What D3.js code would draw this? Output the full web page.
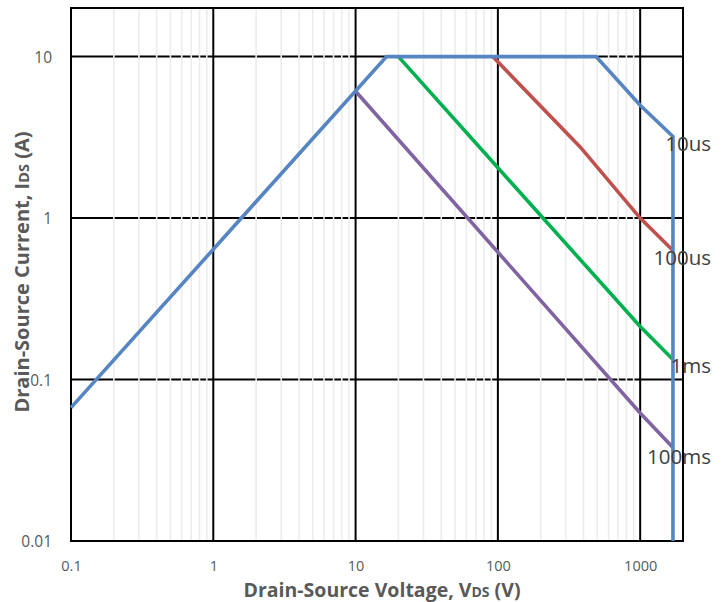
<!DOCTYPE html>
<html><head><meta charset="utf-8">
<script src="https://cdn.jsdelivr.net/npm/d3@7"></script>
<style>body{margin:0;background:#fff}svg{display:block}</style>
</head><body>
<svg id="c" width="727" height="602"></svg>
<script>
const xTicks = [0.1, 1, 10, 100, 1000];
const xTickLabels = ["0.1", "1", "10", "100", "1000"];
const yTicks = [0.01, 0.1, 1, 10];
const yTickLabels = ["0.01", "0.1", "1", "10"];

const s10usV = [0.1, 16.5, 490, 1000, 1700, 1700];
const s10usI = [0.067, 10, 10, 5.0, 3.2, 0.01];
const s100usV = [92, 380, 1000, 1700];
const s100usI = [10, 2.75, 1.0, 0.63];
const s1msV = [20, 1000, 1700];
const s1msI = [10, 0.213, 0.133];
const s100msV = [10, 1000, 1700];
const s100msI = [6.1, 0.062, 0.038];

const seriesNames = ["10us", "100us", "1ms", "100ms"];
const seriesColors = ["#5585c2", "#c0504d", "#00b050", "#8064a2"];
const labelY = [2.88, 0.565, 0.122, 0.0333];

const svg = d3.select("#c");
const L = 71, R = 683, T = 8, B = 541;
const x = d3.scaleLog().domain([0.1, 2000]).range([L, R]);
const y = d3.scaleLog().domain([0.01, 20]).range([B, T]);

const g = svg.append("g");
g.selectAll(".hg").data(yTicks).join("line")
  .attr("x1", L).attr("x2", R).attr("y1", d => y(d)).attr("y2", d => y(d))
  .attr("stroke", "#000").attr("stroke-width", 2);
const minors = [];
[0.1, 1, 10, 100, 1000].forEach(dec => { for (let k = 2; k <= 9; k++) { const v = dec * k; if (v < 2000) minors.push(v); } });
g.selectAll(".mg").data(minors).join("line")
  .attr("x1", d => x(d)).attr("x2", d => x(d)).attr("y1", T + 1).attr("y2", B - 1)
  .attr("stroke", "#ececec").attr("stroke-width", 1.6);
g.selectAll(".vg").data(xTicks.slice(1)).join("line")
  .attr("x1", d => x(d)).attr("x2", d => x(d)).attr("y1", T).attr("y2", B)
  .attr("stroke", "#000").attr("stroke-width", 2);
g.append("rect").attr("x", L).attr("y", T).attr("width", R - L).attr("height", B - T)
  .attr("fill", "none").attr("stroke", "#000").attr("stroke-width", 2);

const series = [[s10usV, s10usI], [s100usV, s100usI], [s1msV, s1msI], [s100msV, s100msI]];
const line = d3.line().x(d => x(d[0])).y(d => y(d[1]));
[3, 2, 1, 0].forEach(i => {
  const pts = series[i][0].map((v, j) => [v, series[i][1][j]]);
  svg.append("path").attr("d", line(pts)).attr("fill", "none")
    .attr("stroke", seriesColors[i]).attr("stroke-width", 3.6).attr("stroke-linejoin", "miter");
});

svg.selectAll(".sl").data(seriesNames).join("text")
  .attr("x", 711).attr("y", (d, i) => y(labelY[i]))
  .attr("dy", "0.36em").attr("text-anchor", "end")
  .attr("font-family", "Open Sans").attr("font-size", 20.5).attr("fill", "#404040")
  .text(d => d);

const xa = d3.axisBottom(x).tickValues(xTicks).tickFormat((d, i) => xTickLabels[i]).tickSize(0).tickPadding(0);
const xg = svg.append("g").attr("transform", `translate(0,${B})`).call(xa);
xg.select(".domain").remove();
xg.selectAll("text").attr("y", 25).attr("dy", "0.36em")
  .attr("font-family", "Open Sans").attr("font-size", 14.5).attr("fill", "#595959");

const ya = d3.axisLeft(y).tickValues(yTicks).tickFormat((d, i) => yTickLabels[i]).tickSize(0).tickPadding(0);
const yg = svg.append("g").attr("transform", `translate(${L},0)`).call(ya);
yg.select(".domain").remove();
yg.selectAll("text").attr("x", -19).attr("dy", "0.36em")
  .attr("font-family", "Open Sans").attr("font-size", 15.5).attr("fill", "#595959");

const xt = svg.append("text").attr("x", 382).attr("y", 597).attr("text-anchor", "middle")
  .attr("font-family", "Open Sans").attr("font-weight", "bold").attr("font-size", 19.5).attr("fill", "#595959");
xt.append("tspan").text("Drain-Source Voltage, V");
xt.append("tspan").attr("font-size", 14).text("DS");
xt.append("tspan").text(" (V)");

const yt = svg.append("text").attr("transform", "translate(29,272) rotate(-90)").attr("text-anchor", "middle")
  .attr("font-family", "Open Sans").attr("font-weight", "bold").attr("font-size", 20).attr("fill", "#595959");
yt.append("tspan").text("Drain-Source Current, I");
yt.append("tspan").attr("font-size", 14.5).text("DS");
yt.append("tspan").text(" (A)");
</script>
</body></html>
